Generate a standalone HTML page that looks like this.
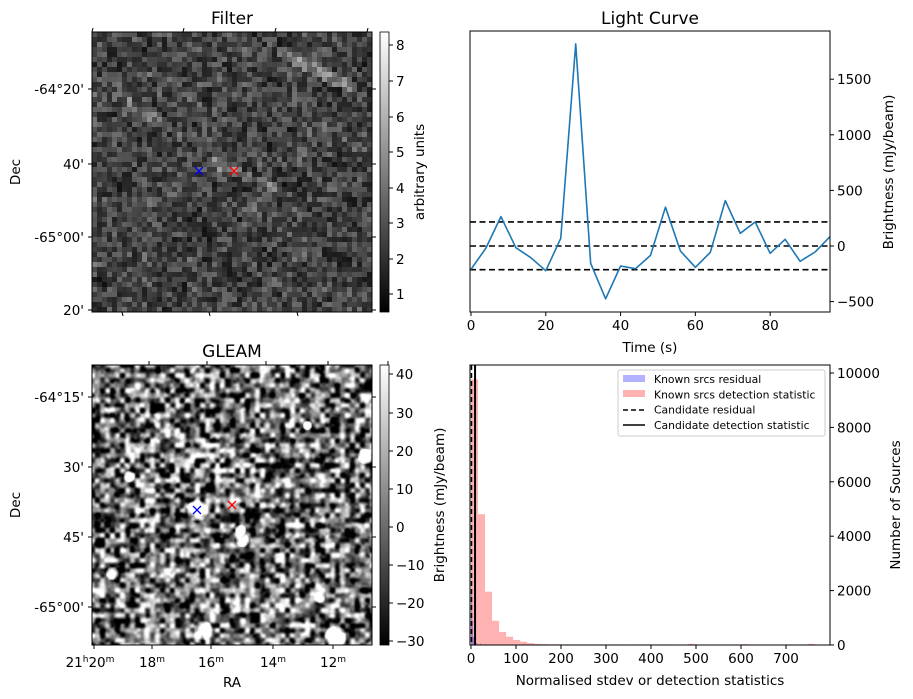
<!DOCTYPE html>
<html><head><meta charset="utf-8"><style>
html,body{margin:0;padding:0;background:#fff;width:913px;height:699px;overflow:hidden}
#root{position:relative;width:913px;height:699px}
canvas,svg{position:absolute;left:0;top:0}
text{font-family:"DejaVu Sans","Liberation Sans",sans-serif;fill:#000}
</style></head><body><div id="root">
<canvas id="filterImg" width="56" height="56" style="left:92px;top:32px;width:280px;height:280px;image-rendering:pixelated"></canvas>
<canvas id="gleamImg" width="280" height="280" style="left:92px;top:365px;width:280px;height:280px"></canvas>
<svg id="chart" width="913" height="699">
<defs>
<linearGradient id="cbg" x1="0" y1="1" x2="0" y2="0"><stop offset="0" stop-color="#000"/><stop offset="1" stop-color="#fff"/></linearGradient>
</defs>
<g id="static"></g>
</svg>
</div>
<script>
// ---- Light curve data ----
const lcTimes=[0,4,8,12,16,20,24,28,32,36,40,44,48,52,56,60,64,68,72,76,80,84,88,92,96];
const lcValues=[-210,-18,264,-15,-105,-222,69,1817,-156,-475,-180,-204,-84,349,-45,-192,-57,408,114,216,-66,60,-138,-54,84];
const lcThresholds=[216,0,-213];
const lcXTicks=[0,20,40,60,80];
const lcYTicks=[-500,0,500,1000,1500];
// ---- Histogram data ----
const histBinStarts=[0,15.6,31.2,46.8,62.4,78,93.6,109.2,124.8,140.4,156,171.6,187.2,202.8,218.4,234,249.6,265.2,280.8,296.4,312,327.6,366,381.6,397.2,412.8,428.4,483,600,748];
const histCounts=[9770,4810,1960,890,480,305,185,120,70,40,30,25,25,20,20,20,20,20,20,20,20,20,20,20,20,20,20,40,30,40];
const histBinWidth=15.6;
const residBinStarts=[0,2,4,8,12,20,30];
const residCounts=[1900,900,300,150,80,50,30];
const residBinWidth=2.5;
const candidateStat=9;
const histXTicks=[0,100,200,300,400,500,600,700];
const histYTicks=[0,2000,4000,6000,8000,10000];

const FS=13.5, TS=17;
const NS="http://www.w3.org/2000/svg";
const svg=document.getElementById('static');
function el(tag,attrs,parent){const e=document.createElementNS(NS,tag);for(const k in attrs)e.setAttribute(k,attrs[k]);(parent||svg).appendChild(e);return e;}
function txt(x,y,s,size,anchor,extra){const t=el('text',Object.assign({x:x,y:y,'font-size':size,'text-anchor':anchor||'middle'},extra||{}));t.textContent=s;return t;}

// ===== Light curve =====
const LC={x0:470,x1:830,y0:31,y1:312};
const lx=v=>LC.x0+1+(v-0)*(LC.x1-LC.x0-1)/96;
const ly=v=>246-v*0.1112;
let g=el('g',{});

txt(650,24,'Light Curve',TS);
lcThresholds.forEach((v,i)=>{const l=el('line',{x1:LC.x0,x2:LC.x1,y1:ly(v),y2:ly(v),stroke:'#000','stroke-width':1.6,'stroke-dasharray':'6,3.5'},g);
});
let pts=lcTimes.map((t,i)=>lx(t)+','+ly(lcValues[i])).join(' ');
const pl=el('polyline',{points:pts,fill:'none',stroke:'#1f77b4','stroke-width':1.6,'stroke-linejoin':'round'},g);

el('rect',{x:LC.x0,y:LC.y0,width:LC.x1-LC.x0,height:LC.y1-LC.y0,fill:'none',stroke:'#000','stroke-width':1},g);
lcXTicks.forEach(v=>{el('line',{x1:lx(v),x2:lx(v),y1:LC.y1,y2:LC.y1+4,stroke:'#000'},g);const t=txt(lx(v),LC.y1+18,String(v),FS);});
lcYTicks.forEach(v=>{el('line',{x1:LC.x1,x2:LC.x1+4,y1:ly(v),y2:ly(v),stroke:'#000'},g);const t=txt(LC.x1+7,ly(v)+5,v<0?'\u2212'+(-v):String(v),FS,'start');});
txt(650,352,'Time (s)',FS);
txt(893,172,'Brightness (mJy/beam)',FS,'middle',{transform:'rotate(-90 893 172)'});

// ===== Histogram =====
const H={x0:470,x1:830,y0:365,y1:645};
const hx=v=>471+v*0.45;
const hy=v=>645-v*0.0272;
g=el('g',{});

histBinStarts.forEach((s,i)=>{const r=el('rect',{x:hx(s),y:hy(histCounts[i]),width:histBinWidth*0.45,height:645-hy(histCounts[i]),fill:'#ff0000','fill-opacity':0.3},g);
});
residBinStarts.forEach((s,i)=>{const r=el('rect',{x:hx(s),y:hy(residCounts[i]),width:residBinWidth*0.45,height:645-hy(residCounts[i]),fill:'#0000ff','fill-opacity':0.3},g);
});
el('line',{x1:hx(0)+0.5,x2:hx(0)+0.5,y1:H.y0,y2:H.y1,stroke:'#000','stroke-width':1.5,'stroke-dasharray':'5,3'},g);
const cl=el('line',{x1:hx(candidateStat),x2:hx(candidateStat),y1:H.y0,y2:H.y1,stroke:'#000','stroke-width':2},g);

el('rect',{x:H.x0,y:H.y0,width:H.x1-H.x0,height:H.y1-H.y0,fill:'none',stroke:'#000'},g);
histXTicks.forEach(v=>{el('line',{x1:hx(v),x2:hx(v),y1:H.y1,y2:H.y1+4,stroke:'#000'},g);const t=txt(hx(v),H.y1+18,String(v),FS);});
histYTicks.forEach(v=>{el('line',{x1:H.x1,x2:H.x1+4,y1:hy(v),y2:hy(v),stroke:'#000'},g);const t=txt(H.x1+7,hy(v)+5,String(v),FS,'start');});
txt(650,685,'Normalised stdev or detection statistics',FS);
txt(900,505,'Number of Sources',FS,'middle',{transform:'rotate(-90 900 505)'});
// legend
const lg=el('g',{},g);
el('rect',{x:618,y:370,width:207,height:66,fill:'#fff',stroke:'#ccc',rx:2},lg);
el('rect',{x:623,y:375,width:22,height:7,fill:'#0000ff','fill-opacity':0.3},lg);
el('rect',{x:623,y:390,width:22,height:7,fill:'#ff0000','fill-opacity':0.3},lg);
el('line',{x1:623,x2:645,y1:410,y2:410,stroke:'#000','stroke-width':1.5,'stroke-dasharray':'5,3'},lg);
el('line',{x1:623,x2:645,y1:425,y2:425,stroke:'#000','stroke-width':1.5},lg);
['Known srcs residual','Known srcs detection statistic','Candidate residual','Candidate detection statistic'].forEach((s,i)=>{const t=txt(654,383+i*15.3,s,10.8,'start');});

// ===== Image panel axes =====
function imagePanel(y0,title,cbTicks,cbLabel,cbLabelX,yTicks,name){
  const p=el('g',{});
  txt(232,y0-8,title,TS);
  el('rect',{x:92,y:y0,width:280,height:280,fill:'none',stroke:'#000'},p);
  el('rect',{x:380,y:y0,width:9,height:280,fill:'url(#cbg)',stroke:'#000','stroke-width':0.8},p);
  cbTicks.forEach(t=>{el('line',{x1:389,x2:393,y1:t[1],y2:t[1],stroke:'#000'},p);txt(396,t[1]+5,t[0],FS,'start');});
  txt(cbLabelX,y0+140,cbLabel,FS,'middle',{transform:`rotate(-90 ${cbLabelX} ${y0+140})`});
  yTicks.forEach(t=>{el('line',{x1:88,x2:92,y1:t[1],y2:t[1],stroke:'#000'},p);el('line',{x1:372,x2:376,y1:t[1],y2:t[1],stroke:'#000'},p);txt(84,t[1]+5,t[0],FS,'end');});
  txt(20,y0+140,'Dec',FS,'middle',{transform:`rotate(-90 20 ${y0+140})`});
  return p;
}
const fp=imagePanel(32,'Filter',[['8',45],['7',81],['6',117],['5',152],['4',188],['3',223],['2',259],['1',294]],'arbitrary units',424,[['-64°20\'',89],['40\'',164],['-65°00\'',237],['20\'',310]],'filter-panel');
[92,183,275,367].forEach(x=>el('line',{x1:x,x2:x+1,y1:32,y2:28,stroke:'#000'},fp));
[122,209,297].forEach(x=>el('line',{x1:x,x2:x+1,y1:312,y2:316,stroke:'#000'},fp));
const gp=imagePanel(365,'GLEAM',[['40',374],['30',413],['20',451],['10',489],['0',527],['\u221210',565],['\u221220',603],['\u221230',641]],'Brightness (mJy/beam)',444,[['-64°15\'',397],['30\'',467],['45\'',537],['-65°00\'',607]],'gleam-panel');
[[94,'21','20'],[152,'','18'],[211,'','16'],[273,'','14'],[333,'','12']].forEach(t=>{
  el('line',{x1:t[0],x2:t[0],y1:645,y2:649,stroke:'#000'},gp);
  el('line',{x1:t[0]+55,x2:t[0]+55,y1:365,y2:361,stroke:'#000'},gp);
  const tx=txt(t[0]+(t[1]?-4:0),667,'',FS);
  tx.innerHTML=(t[1]?'21<tspan font-size="9" dy="-5">h</tspan><tspan dy="5">20</tspan>':t[2])+'<tspan font-size="9" dy="-5">m</tspan>';
  
});
txt(232,687,'RA',FS);
function cross(x,y,c,n){const m=el('path',{d:`M${x-4},${y-4}L${x+4},${y+4}M${x-4},${y+4}L${x+4},${y-4}`,stroke:c,'stroke-width':1.3});}
cross(199,171,'#0000ff','candidate-marker');cross(234,171,'#ff0000','source-marker');
cross(197,510,'#0000ff','candidate-marker');cross(232,505,'#ff0000','source-marker');

// ===== image textures =====
let seed=12345;function rnd(){seed=(seed*1103515245+12345)&0x7fffffff;return seed/0x7fffffff;}
function noiseField(N){const gr=[];for(let i=0;i<N*N;i++)gr.push(rnd());return gr;}
function sample(gr,N,gx,gy){const ix=Math.min(N-2,Math.floor(gx)),iy=Math.min(N-2,Math.floor(gy));const fx=Math.min(1,gx-ix),fy=Math.min(1,gy-iy);
 const sx=fx*fx*(3-2*fx),sy=fy*fy*(3-2*fy);
 return gr[iy*N+ix]*(1-sx)*(1-sy)+gr[iy*N+ix+1]*sx*(1-sy)+gr[(iy+1)*N+ix]*(1-sx)*sy+gr[(iy+1)*N+ix+1]*sx*sy;}
(function(){const c=document.getElementById('filterImg').getContext('2d');const im=c.createImageData(56,56);
const f=noiseField(40);
for(let i=0;i<56*56;i++){const x=i%56,y=Math.floor(i/56);
 let v=12+Math.pow(rnd(),1.4)*75+sample(f,40,x/1.6,y/1.6)*45;
 if(Math.abs((y-7)-(x-44)*0.5)<1.2&&x>36&&x<52)v+=55;
 if(Math.abs((y-27)-(x-27)*0.4)<1&&x>22&&x<38)v+=50;
 if(Math.abs((y-17)-(x-12)*0.6)<1.2&&x>6&&x<18)v+=40;
 im.data[i*4]=im.data[i*4+1]=im.data[i*4+2]=Math.min(255,v);im.data[i*4+3]=255;}
c.putImageData(im,0,0);})();
(function(){const N1=60,N2=90,g1=noiseField(N1),g2=noiseField(N2);
const c=document.getElementById('gleamImg').getContext('2d');const im=c.createImageData(280,280);
const blobs=[[105,145,11],[20,208,7],[111,265,10],[243,271,11],[227,232,6],[273,91,8],[37,111,6],[150,175,7],[148,165,6],[215,60,5]];
for(let y=0;y<280;y++)for(let x=0;x<280;x++){
 let n=sample(g1,N1,x/5,y/5)*0.8+sample(g2,N2,x/3.3,y/3.3)*0.2;
 let v=0.45+(n-0.5)*1.7;
 blobs.forEach(b=>{const d=Math.hypot(x-b[0],y-b[1]);if(d<b[2])v+=1.0*(1-Math.pow(d/b[2],3))+0.1;});
 v=Math.max(0,Math.min(1,v))*255;const k=(y*280+x)*4;im.data[k]=im.data[k+1]=im.data[k+2]=v;im.data[k+3]=255;}
c.putImageData(im,0,0);})();
</script></body></html>
